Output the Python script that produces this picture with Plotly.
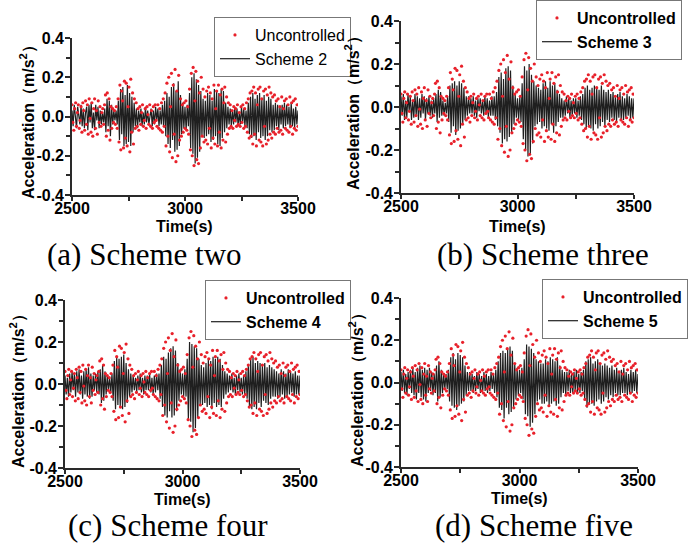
import numpy as np
import plotly.graph_objects as go

# ---------------- data ----------------
# Uncontrolled response (red dots), sampled every 4 s from 2500 s to 3500 s
uncontrolled = [
    0.06, -0.03, -0.07, 0.04, 0.07, -0.05, 0.02, 0.06, -0.06, -0.02, 0.05, -0.08, 0.07, 0.03, -0.07, 0.08, -0.04, 0.06, -0.09, 0.09, -0.01, -0.08, 0.07, -0.10, 0.04,
    0.09, -0.06, 0.03, -0.09, 0.08, -0.03, 0.05, -0.05, 0.02, 0.04, -0.04, 0.06, 0.11, -0.10, 0.12, -0.07, 0.09, -0.12, 0.05, -0.06, 0.04, -0.03, 0.03, -0.04, 0.05,
    -0.06, 0.09, -0.13, 0.16, -0.17, 0.13, 0.08, -0.16, 0.18, -0.11, 0.17, -0.15, 0.05, 0.15, -0.18, 0.19, -0.08, 0.12, -0.14, 0.09, -0.06, 0.07, -0.05, 0.04, -0.07,
    0.05, -0.04, 0.02, 0.06, -0.05, -0.02, 0.04, -0.06, 0.05, 0.01, -0.04, 0.06, -0.05, 0.03, -0.06, 0.05, -0.03, 0.06, -0.02, -0.05, 0.06, -0.06, 0.04, -0.07, 0.07,
    -0.08, 0.09, -0.05, 0.12, -0.15, 0.17, -0.10, 0.20, -0.18, 0.05, 0.22, -0.21, 0.16, -0.09, 0.24, -0.23, 0.13, -0.20, 0.21, -0.12, 0.09, -0.10, 0.06, -0.08, 0.07,
    -0.06, 0.08, -0.07, 0.05, -0.09, 0.14, -0.17, 0.22, -0.20, 0.25, -0.25, 0.08, 0.23, -0.22, 0.18, -0.24, 0.12, -0.16, 0.20, -0.10, 0.14, -0.13, 0.10, -0.12, 0.13,
    -0.14, 0.15, -0.06, 0.12, -0.16, 0.09, -0.11, 0.16, -0.14, 0.04, 0.13, -0.15, 0.16, -0.08, 0.11, -0.16, 0.14, -0.12, 0.07, 0.15, -0.13, 0.10, -0.09, 0.07, -0.06,
    0.06, -0.05, 0.03, -0.06, 0.05, -0.02, 0.04, -0.05, 0.06, -0.04, 0.02, -0.05, 0.05, -0.03, 0.06, -0.06, 0.04, -0.05, 0.07, -0.08, 0.09, -0.11, 0.12, -0.10, 0.13,
    -0.14, 0.15, -0.09, 0.12, -0.15, 0.06, 0.14, -0.12, 0.15, -0.13, 0.09, -0.15, 0.13, -0.05, 0.14, -0.14, 0.11, -0.12, 0.15, -0.09, 0.12, -0.11, 0.10, -0.08, 0.11,
    -0.09, 0.08, -0.06, 0.09, -0.08, 0.05, -0.07, 0.10, -0.09, 0.04, 0.08, -0.06, 0.09, -0.07, 0.06, -0.08, 0.10, -0.05, 0.07, -0.09, 0.08, -0.06, 0.09, -0.07, 0.06,
    -0.05,
]

# Controlled responses (black lines), sampled every 5 s from 2500 s to 3500 s
scheme2 = [
    0.03, -0.05, 0.06, -0.02, -0.06, 0.05, 0.01, -0.04, 0.06, -0.05,
    0.04, -0.06, 0.02, 0.05, -0.07, 0.06, -0.03, 0.07, -0.06, 0.02,
    -0.07, 0.06, -0.02, 0.05, -0.06, 0.03, -0.04, 0.02, -0.03, 0.04,
    -0.08, 0.09, -0.05, 0.08, -0.10, 0.06, -0.04, 0.03, -0.02, 0.03,
    -0.04, 0.08, -0.12, 0.14, -0.09, 0.15, -0.15, 0.11, -0.14, 0.16,
    -0.13, 0.12, -0.15, 0.10, -0.08, 0.07, -0.05, 0.04, -0.06, 0.03,
    -0.03, 0.04, -0.05, 0.02, -0.04, 0.05, -0.03, 0.03, -0.04, 0.02,
    0.04, -0.05, 0.03, -0.04, 0.05, -0.02, 0.04, -0.05, 0.03, -0.04,
    0.06, -0.05, 0.08, -0.10, 0.12, -0.14, 0.10, -0.16, 0.15, -0.12,
    0.17, -0.18, 0.13, -0.17, 0.18, -0.15, 0.11, -0.09, 0.07, -0.06,
    0.05, -0.07, 0.06, -0.05, 0.12, -0.16, 0.20, -0.19, 0.22, -0.24,
    0.19, -0.21, 0.16, -0.18, 0.13, -0.10, 0.09, -0.11, 0.08, -0.10,
    0.12, -0.09, 0.11, -0.13, 0.08, -0.12, 0.14, -0.10, 0.13, -0.14,
    0.12, -0.15, 0.14, -0.11, 0.13, -0.08, 0.07, -0.06, 0.05, -0.04,
    0.04, -0.05, 0.03, -0.04, 0.05, -0.03, 0.04, -0.05, 0.02, -0.04,
    0.05, -0.03, 0.04, -0.05, 0.03, -0.06, 0.07, -0.09, 0.10, -0.11,
    0.12, -0.10, 0.09, -0.12, 0.11, -0.08, 0.12, -0.11, 0.09, -0.10,
    0.11, -0.12, 0.08, -0.10, 0.10, -0.07, 0.09, -0.08, 0.06, -0.07,
    0.07, -0.05, 0.06, -0.07, 0.05, -0.04, 0.06, -0.06, 0.07, -0.05,
    0.06, -0.04, 0.05, -0.06, 0.07, -0.05, 0.04, -0.06, 0.05, -0.04,
    0.03,
]

scheme3 = [
    0.05, -0.04, 0.06, -0.06, 0.03, -0.05, 0.06, -0.02, 0.05, -0.06,
    0.03, -0.05, 0.06, -0.04, 0.05, -0.06, 0.04, -0.05, 0.06, -0.03,
    0.05, -0.06, 0.04, -0.03, 0.05, -0.04, 0.03, -0.05, 0.04, -0.03,
    0.06, -0.07, 0.08, -0.05, 0.07, -0.04, 0.03, -0.04, 0.02, -0.03,
    0.05, -0.07, 0.10, -0.12, 0.11, -0.09, 0.12, -0.13, 0.10, -0.11,
    0.12, -0.10, 0.11, -0.08, 0.09, -0.06, 0.05, -0.04, 0.05, -0.03,
    0.04, -0.03, 0.05, -0.04, 0.03, -0.05, 0.04, -0.02, 0.04, -0.03,
    0.03, -0.04, 0.05, -0.03, 0.04, -0.05, 0.03, -0.04, 0.05, -0.04,
    0.05, -0.06, 0.07, -0.09, 0.14, -0.12, 0.16, -0.17, 0.13, -0.15,
    0.18, -0.16, 0.19, -0.14, 0.17, -0.12, 0.10, -0.08, 0.06, -0.05,
    0.04, -0.06, 0.05, -0.07, 0.11, -0.15, 0.19, -0.20, 0.17, -0.23,
    0.20, -0.22, 0.15, -0.17, 0.12, -0.09, 0.10, -0.08, 0.09, -0.07,
    0.08, -0.10, 0.11, -0.09, 0.12, -0.10, 0.09, -0.11, 0.12, -0.08,
    0.10, -0.12, 0.11, -0.09, 0.08, -0.07, 0.06, -0.05, 0.04, -0.05,
    0.03, -0.04, 0.05, -0.03, 0.04, -0.05, 0.03, -0.04, 0.04, -0.03,
    0.04, -0.05, 0.03, -0.04, 0.05, -0.06, 0.06, -0.08, 0.09, -0.10,
    0.10, -0.09, 0.08, -0.10, 0.09, -0.11, 0.10, -0.08, 0.09, -0.10,
    0.08, -0.09, 0.10, -0.07, 0.08, -0.09, 0.07, -0.06, 0.08, -0.07,
    0.06, -0.05, 0.07, -0.06, 0.05, -0.07, 0.06, -0.05, 0.07, -0.06,
    0.05, -0.06, 0.04, -0.05, 0.06, -0.04, 0.05, -0.06, 0.04, -0.05,
    0.04,
]

scheme4 = [
    0.04, -0.05, 0.03, -0.06, 0.05, -0.04, 0.06, -0.03, 0.05, -0.06,
    0.06, -0.04, 0.07, -0.05, 0.04, -0.07, 0.06, -0.05, 0.07, -0.06,
    0.08, -0.07, 0.05, -0.06, 0.04, -0.03, 0.05, -0.04, 0.06, -0.05,
    0.07, -0.09, 0.09, -0.08, 0.06, -0.05, 0.04, -0.03, 0.03, -0.04,
    0.05, -0.08, 0.11, -0.12, 0.13, -0.10, 0.12, -0.11, 0.13, -0.12,
    0.14, -0.11, 0.10, -0.09, 0.07, -0.06, 0.05, -0.04, 0.04, -0.03,
    0.03, -0.04, 0.04, -0.03, 0.05, -0.04, 0.03, -0.05, 0.04, -0.03,
    0.04, -0.03, 0.05, -0.04, 0.03, -0.05, 0.04, -0.04, 0.05, -0.03,
    0.05, -0.07, 0.09, -0.11, 0.13, -0.15, 0.12, -0.16, 0.15, -0.13,
    0.17, -0.16, 0.18, -0.15, 0.16, -0.13, 0.10, -0.08, 0.07, -0.05,
    0.05, -0.06, 0.07, -0.06, 0.12, -0.17, 0.20, -0.18, 0.19, -0.23,
    0.18, -0.21, 0.17, -0.16, 0.12, -0.10, 0.09, -0.10, 0.08, -0.09,
    0.10, -0.11, 0.12, -0.10, 0.11, -0.12, 0.13, -0.09, 0.12, -0.11,
    0.13, -0.10, 0.12, -0.11, 0.09, -0.07, 0.06, -0.05, 0.05, -0.04,
    0.04, -0.03, 0.05, -0.04, 0.03, -0.05, 0.04, -0.03, 0.05, -0.04,
    0.03, -0.05, 0.04, -0.05, 0.06, -0.07, 0.09, -0.11, 0.12, -0.12,
    0.13, -0.11, 0.10, -0.12, 0.11, -0.09, 0.10, -0.11, 0.09, -0.08,
    0.10, -0.09, 0.08, -0.10, 0.09, -0.07, 0.08, -0.06, 0.07, -0.06,
    0.06, -0.07, 0.05, -0.06, 0.07, -0.05, 0.06, -0.07, 0.05, -0.06,
    0.07, -0.05, 0.06, -0.04, 0.05, -0.06, 0.06, -0.05, 0.04, -0.05,
    0.04,
]

scheme5 = [
    0.05, -0.04, 0.06, -0.05, 0.04, -0.06, 0.05, -0.03, 0.06, -0.05,
    0.07, -0.06, 0.05, -0.08, 0.07, -0.05, 0.08, -0.07, 0.06, -0.08,
    0.07, -0.09, 0.06, -0.05, 0.07, -0.04, 0.05, -0.06, 0.04, -0.05,
    0.08, -0.09, 0.10, -0.07, 0.06, -0.05, 0.04, -0.03, 0.04, -0.03,
    0.06, -0.09, 0.12, -0.11, 0.14, -0.12, 0.11, -0.13, 0.14, -0.11,
    0.13, -0.10, 0.12, -0.09, 0.08, -0.06, 0.05, -0.04, 0.05, -0.04,
    0.04, -0.05, 0.03, -0.04, 0.05, -0.03, 0.04, -0.05, 0.03, -0.04,
    0.05, -0.04, 0.04, -0.05, 0.03, -0.04, 0.05, -0.03, 0.04, -0.05,
    0.06, -0.07, 0.10, -0.12, 0.14, -0.13, 0.15, -0.17, 0.14, -0.12,
    0.16, -0.15, 0.17, -0.14, 0.15, -0.12, 0.09, -0.08, 0.07, -0.06,
    0.06, -0.05, 0.07, -0.08, 0.11, -0.15, 0.18, -0.16, 0.17, -0.21,
    0.16, -0.19, 0.14, -0.15, 0.11, -0.09, 0.10, -0.08, 0.09, -0.10,
    0.09, -0.10, 0.11, -0.09, 0.10, -0.11, 0.12, -0.10, 0.11, -0.09,
    0.10, -0.11, 0.12, -0.10, 0.08, -0.07, 0.06, -0.05, 0.05, -0.06,
    0.05, -0.04, 0.06, -0.05, 0.04, -0.05, 0.05, -0.04, 0.06, -0.05,
    0.04, -0.05, 0.05, -0.04, 0.06, -0.08, 0.10, -0.12, 0.11, -0.10,
    0.12, -0.10, 0.09, -0.11, 0.10, -0.09, 0.11, -0.08, 0.09, -0.10,
    0.08, -0.09, 0.09, -0.07, 0.08, -0.08, 0.07, -0.06, 0.08, -0.07,
    0.06, -0.05, 0.07, -0.06, 0.05, -0.06, 0.06, -0.05, 0.07, -0.05,
    0.05, -0.06, 0.04, -0.05, 0.06, -0.05, 0.05, -0.04, 0.06, -0.05,
    0.04,
]

time_start, time_end = 2500, 3500
scheme_names = ["Scheme 2", "Scheme 3", "Scheme 4", "Scheme 5"]
captions = ["(a) Scheme two", "(b) Scheme three", "(c) Scheme four", "(d) Scheme five"]
controlled_series = [scheme2, scheme3, scheme4, scheme5]
x_tick_vals = [2500, 3000, 3500]
y_tick_vals = [-0.4, -0.2, 0.0, 0.2, 0.4]
y_tick_text = ["-0.4", "-0.2", "0.0", "0.2", "0.4"]
x_title = "Time(s)"
y_title = "Acceleration\uff08m/s<sup>2</sup>\uff09"

time_uncontrolled = np.linspace(time_start, time_end, len(uncontrolled))

# ---------------- layout ----------------
W, H = 688, 543
# plot areas in pixels: (left, right, top, bottom)
areas = [(72, 298, 38, 195), (401, 634, 21, 193), (65, 300, 300, 468), (401, 638, 298, 467)]
legend_pos = [(214, 17), (536, 0), (205, 280), (542, 279)]
legend_bold = [False, True, True, True]
caption_pos = [(144, 254), (543, 254), (168, 525), (534, 525)]
xtitle_pos = [(185, 226), (517, 227), (182, 499), (519, 498)]
ytitle_pos = [(27, 118), (352, 109), (17, 387), (356, 386)]

SANS = "Liberation Sans, Arial, sans-serif"
SERIF = "Liberation Serif, Times New Roman, serif"
RED = "#e8202a"
AX = "#2a2a2a"

fig = go.Figure()
layout = dict(
    width=W, height=H, autosize=False,
    margin=dict(l=0, r=0, t=0, b=0, autoexpand=False),
    paper_bgcolor="white", plot_bgcolor="white",
    showlegend=True,
    annotations=[],
)

for i in range(4):
    n = "" if i == 0 else str(i + 1)
    xa, ya = "x" + n, "y" + n
    lg = "legend" + n
    l, r, t, b = areas[i]
    ctrl = controlled_series[i]
    time_controlled = np.linspace(time_start, time_end, len(ctrl))
    fig.add_trace(go.Scatter(
        x=time_controlled, y=ctrl, mode="lines",
        line=dict(color="rgba(0,0,0,0.88)", width=1.2),
        name=scheme_names[i], xaxis=xa, yaxis=ya, legend=lg, legendrank=2,
    ))
    fig.add_trace(go.Scatter(
        x=time_uncontrolled, y=uncontrolled, mode="markers",
        marker=dict(color=RED, size=3.2),
        name="Uncontrolled", xaxis=xa, yaxis=ya, legend=lg, legendrank=1,
    ))
    tickfont = dict(family=SANS, size=16, color="black", weight="bold")
    layout["xaxis" + n] = dict(
        domain=[l / W, r / W], anchor=ya, range=[time_start, time_end],
        tickvals=x_tick_vals, ticks="outside", ticklen=4, tickwidth=1.5,
        tickcolor=AX, showline=True, linecolor=AX, linewidth=1.6,
        showgrid=False, zeroline=False, tickfont=tickfont, ticklabelstandoff=-6,
        minor=dict(tickvals=[2750, 3250], ticks="outside", ticklen=4, tickcolor=AX, showgrid=False),
    )
    layout["yaxis" + n] = dict(
        domain=[1 - b / H, 1 - t / H], anchor=xa, range=[-0.4, 0.4],
        tickvals=y_tick_vals, ticktext=y_tick_text, ticks="outside", ticklen=5, tickwidth=1.5,
        tickcolor=AX, showline=True, linecolor=AX, linewidth=1.6,
        showgrid=False, zeroline=False, tickfont=tickfont, ticklabelstandoff=-2,
        minor=dict(tickvals=[-0.3, -0.1, 0.1, 0.3], ticks="outside", ticklen=4, tickcolor=AX, showgrid=False),
    )
    lx, ly = legend_pos[i]
    layout[lg] = dict(
        x=lx / W, y=1 - ly / H, xanchor="left", yanchor="top",
        bgcolor="white", bordercolor="#777", borderwidth=1,
        font=dict(family=SANS, size=16, color="black",
                  weight="bold" if legend_bold[i] else "normal"),
        tracegroupgap=0, itemwidth=30,
    )
    cx, cy = caption_pos[i]
    layout["annotations"].append(dict(
        text=captions[i], x=cx / W, y=1 - cy / H, xref="paper", yref="paper",
        xanchor="center", yanchor="middle", showarrow=False,
        font=dict(family=SERIF, size=31, color="black"),
    ))
    tx, ty = xtitle_pos[i]
    layout["annotations"].append(dict(
        text=x_title, x=tx / W, y=1 - ty / H, xref="paper", yref="paper",
        xanchor="center", yanchor="middle", showarrow=False,
        font=dict(family=SANS, size=16, color="black", weight="bold"),
    ))
    yx, yy = ytitle_pos[i]
    layout["annotations"].append(dict(
        text=y_title, x=yx / W, y=1 - yy / H, xref="paper", yref="paper",
        xanchor="center", yanchor="middle", showarrow=False, textangle=-90,
        font=dict(family=SANS, size=16, color="black", weight="bold"),
    ))

fig.update_layout(**layout)
fig.write_html("out.html", config={"displayModeBar": False},
               post_script="document.body.style.margin='0px';")
